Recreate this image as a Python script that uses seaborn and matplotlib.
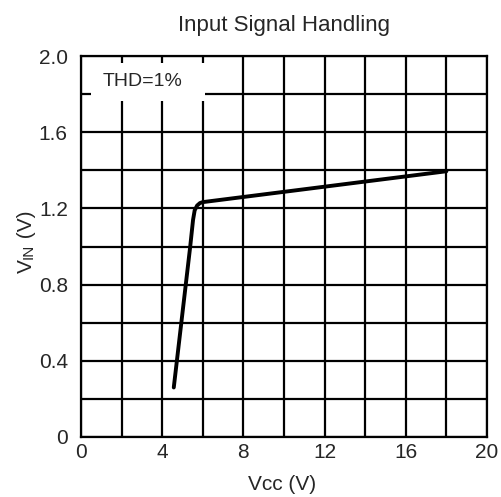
import matplotlib
matplotlib.use("Agg")
import numpy as np
import pandas as pd
import matplotlib.pyplot as plt
import seaborn as sns
from matplotlib.patches import Rectangle

# values
vcc = [4.57, 5.38, 5.52, 5.60, 5.72, 5.86, 6.00, 18.0]
vin = [0.26, 1.00, 1.14, 1.19, 1.215, 1.228, 1.233, 1.395]

x_ticks = [0, 4, 8, 12, 16, 20]
x_labels = ["0", "4", "8", "12", "16", "20"]
y_ticks = [0, 0.4, 0.8, 1.2, 1.6, 2.0]
y_labels = ["0", "0.4", "0.8", "1.2", "1.6", "2.0"]

sns.set_style("white")
plt.rcParams["font.family"] = ["Liberation Sans", "DejaVu Sans"]

df = pd.DataFrame({"vcc": vcc, "vin": vin})

fig = plt.figure(figsize=(5.01, 4.97), dpi=100)
ax = fig.add_axes([81 / 501, 1 - 437 / 497, 406 / 501, 381 / 497])

sns.lineplot(data=df, x="vcc", y="vin", sort=False, color="black", lw=2.8,
             ax=ax, zorder=5)

ax.set_xlim(0, 20)
ax.set_ylim(0, 2.0)
ax.set_xticks(x_ticks)
ax.set_xticklabels(x_labels)
ax.set_xticks(np.arange(0, 21, 2), minor=True)
ax.set_yticks(y_ticks)
ax.set_yticklabels(y_labels)
ax.set_yticks(np.arange(0, 2.01, 0.2), minor=True)
ax.grid(which="both", color="black", lw=1.6)
ax.tick_params(which="both", length=0)
ax.tick_params(axis="x", pad=4.5, labelsize=15)
ax.tick_params(axis="y", pad=9.5, labelsize=15)
for s in ax.spines.values():
    s.set_color("black")
    s.set_linewidth(1.6)
ax.set_xlabel("")
ax.set_ylabel("")

# legend-like box
ax.add_patch(Rectangle((0.49, 1.765), 5.62, 0.2, facecolor="white",
                       edgecolor="none", zorder=3))
ax.text(3.05, 1.865, "THD=1%", fontsize=14, ha="center", va="center", zorder=4)

ax.set_title("Input Signal Handling", fontsize=16, pad=18)

fig.text(282 / 501, 1 - 490 / 497, "Vcc (V)", fontsize=15, ha="center",
         va="baseline")

# y label with small-caps subscript
t1 = fig.text(36 / 501, 1 - 273 / 497, "V", fontsize=15, rotation=90,
              ha="right", va="bottom")
t2 = ax.annotate("IN", xy=(1, 1), xycoords=t1, fontsize=11, rotation=90,
                 ha="right", va="bottom")
ax.annotate(" (V)", xy=(1, 1), xycoords=t2, fontsize=15, rotation=90,
            ha="right", va="bottom")

fig.savefig("out.png", dpi=100)
